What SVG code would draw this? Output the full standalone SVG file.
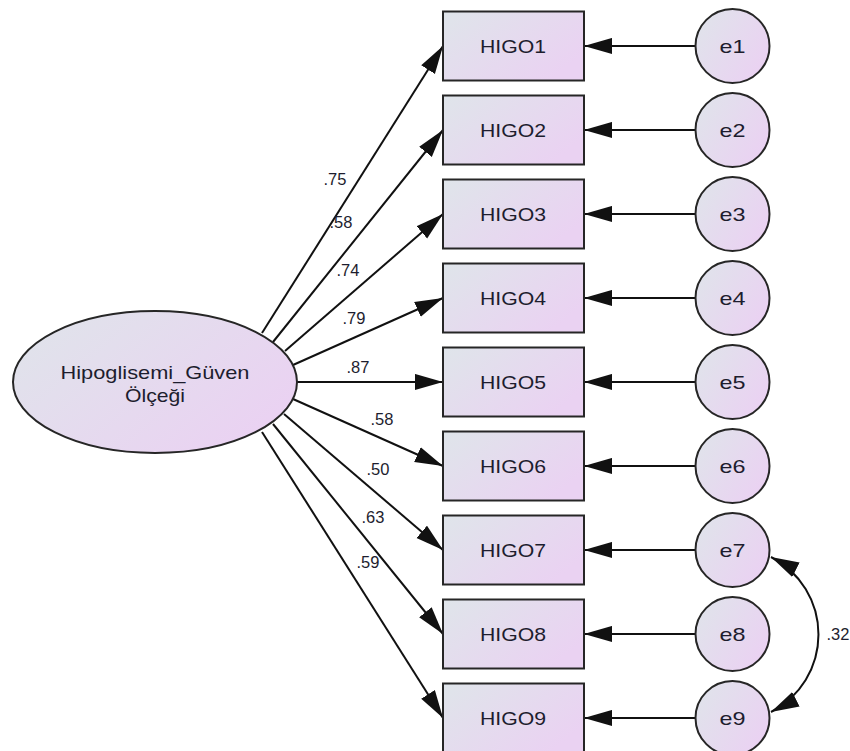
<svg xmlns="http://www.w3.org/2000/svg" width="850" height="751" viewBox="0 0 850 751">
  <defs>
    <linearGradient id="fill" x1="0" y1="0" x2="1" y2="0.6">
      <stop offset="0" stop-color="#dfe5ea"/>
      <stop offset="1" stop-color="#ead2f2"/>
    </linearGradient>
    <marker id="head" markerUnits="userSpaceOnUse" markerWidth="28" markerHeight="17" viewBox="0 0 26 15" refX="26" refY="7.5" orient="auto-start-reverse">
      <path d="M0,0 L26,7.5 L0,15 Z" fill="#111"/>
    </marker>
    <style>
      .node { fill: url(#fill); stroke: #262626; stroke-width: 2; }
      .lbl { font-family: "Liberation Sans", Arial, sans-serif; font-size: 19px; fill: #1d1d2e; text-anchor: middle; }
      .coef { font-family: "Liberation Sans", Arial, sans-serif; font-size: 16.5px; fill: #1d1d2e; text-anchor: middle; }
      .path { stroke: #111; stroke-width: 2; fill: none; marker-end: url(#head); }
    </style>
  </defs>

  <!-- connectors: loadings, error paths, covariance -->
  <g id="connectors">
    <line class="path" x1="262" y1="333" x2="443" y2="46"/>
    <line class="path" x1="273" y1="342" x2="443" y2="130"/>
    <line class="path" x1="285" y1="351" x2="443" y2="214"/>
    <line class="path" x1="293" y1="365" x2="443" y2="298"/>
    <line class="path" x1="297" y1="382" x2="443" y2="382"/>
    <line class="path" x1="293" y1="399" x2="443" y2="466"/>
    <line class="path" x1="284" y1="414" x2="443" y2="550"/>
    <line class="path" x1="273" y1="424" x2="443" y2="634"/>
    <line class="path" x1="262" y1="432" x2="443" y2="718"/>

    <line class="path" x1="695" y1="46" x2="584" y2="46"/>
    <line class="path" x1="695" y1="130" x2="584" y2="130"/>
    <line class="path" x1="695" y1="214" x2="584" y2="214"/>
    <line class="path" x1="695" y1="298" x2="584" y2="298"/>
    <line class="path" x1="695" y1="382" x2="584" y2="382"/>
    <line class="path" x1="695" y1="466" x2="584" y2="466"/>
    <line class="path" x1="695" y1="550" x2="584" y2="550"/>
    <line class="path" x1="695" y1="634" x2="584" y2="634"/>
    <line class="path" x1="695" y1="718" x2="584" y2="718"/>

    <path class="path" d="M771,557 A87,87 0 0 1 771,712" marker-start="url(#head)"/>

    <text class="coef" x="335" y="185">.75</text>
    <text class="coef" x="341" y="228">.58</text>
    <text class="coef" x="348" y="276">.74</text>
    <text class="coef" x="354" y="324">.79</text>
    <text class="coef" x="358" y="373">.87</text>
    <text class="coef" x="382" y="425">.58</text>
    <text class="coef" x="378" y="475">.50</text>
    <text class="coef" x="373" y="523">.63</text>
    <text class="coef" x="368" y="568">.59</text>
    <text class="coef" x="838" y="640">.32</text>
  </g>

  <!-- latent factor -->
  <g id="factor">
    <ellipse class="node" cx="155" cy="382" rx="142" ry="71"/>
    <text class="lbl" x="155" y="379" textLength="189" lengthAdjust="spacingAndGlyphs">Hipoglisemi_Güven</text>
    <text class="lbl" x="155" y="402" textLength="60" lengthAdjust="spacingAndGlyphs">Ölçeği</text>
  </g>

  <!-- observed items -->
  <g id="HIGO1"><rect class="node" x="443" y="11.5" width="141" height="69"/><text class="lbl" x="513" y="53" textLength="66" lengthAdjust="spacingAndGlyphs">HIGO1</text></g>
  <g id="HIGO2"><rect class="node" x="443" y="95.5" width="141" height="69"/><text class="lbl" x="513" y="137" textLength="66" lengthAdjust="spacingAndGlyphs">HIGO2</text></g>
  <g id="HIGO3"><rect class="node" x="443" y="179.5" width="141" height="69"/><text class="lbl" x="513" y="221" textLength="66" lengthAdjust="spacingAndGlyphs">HIGO3</text></g>
  <g id="HIGO4"><rect class="node" x="443" y="263.5" width="141" height="69"/><text class="lbl" x="513" y="305" textLength="66" lengthAdjust="spacingAndGlyphs">HIGO4</text></g>
  <g id="HIGO5"><rect class="node" x="443" y="347.5" width="141" height="69"/><text class="lbl" x="513" y="389" textLength="66" lengthAdjust="spacingAndGlyphs">HIGO5</text></g>
  <g id="HIGO6"><rect class="node" x="443" y="431.5" width="141" height="69"/><text class="lbl" x="513" y="473" textLength="66" lengthAdjust="spacingAndGlyphs">HIGO6</text></g>
  <g id="HIGO7"><rect class="node" x="443" y="515.5" width="141" height="69"/><text class="lbl" x="513" y="557" textLength="66" lengthAdjust="spacingAndGlyphs">HIGO7</text></g>
  <g id="HIGO8"><rect class="node" x="443" y="599.5" width="141" height="69"/><text class="lbl" x="513" y="641" textLength="66" lengthAdjust="spacingAndGlyphs">HIGO8</text></g>
  <g id="HIGO9"><rect class="node" x="443" y="683.5" width="141" height="69"/><text class="lbl" x="513" y="725" textLength="66" lengthAdjust="spacingAndGlyphs">HIGO9</text></g>

  <!-- error terms -->
  <g id="e1"><circle class="node" cx="732.5" cy="46" r="37"/><text class="lbl" x="732.5" y="53" textLength="26" lengthAdjust="spacingAndGlyphs">e1</text></g>
  <g id="e2"><circle class="node" cx="732.5" cy="130" r="37"/><text class="lbl" x="732.5" y="137" textLength="26" lengthAdjust="spacingAndGlyphs">e2</text></g>
  <g id="e3"><circle class="node" cx="732.5" cy="214" r="37"/><text class="lbl" x="732.5" y="221" textLength="26" lengthAdjust="spacingAndGlyphs">e3</text></g>
  <g id="e4"><circle class="node" cx="732.5" cy="298" r="37"/><text class="lbl" x="732.5" y="305" textLength="26" lengthAdjust="spacingAndGlyphs">e4</text></g>
  <g id="e5"><circle class="node" cx="732.5" cy="382" r="37"/><text class="lbl" x="732.5" y="389" textLength="26" lengthAdjust="spacingAndGlyphs">e5</text></g>
  <g id="e6"><circle class="node" cx="732.5" cy="466" r="37"/><text class="lbl" x="732.5" y="473" textLength="26" lengthAdjust="spacingAndGlyphs">e6</text></g>
  <g id="e7"><circle class="node" cx="732.5" cy="550" r="37"/><text class="lbl" x="732.5" y="557" textLength="26" lengthAdjust="spacingAndGlyphs">e7</text></g>
  <g id="e8"><circle class="node" cx="732.5" cy="634" r="37"/><text class="lbl" x="732.5" y="641" textLength="26" lengthAdjust="spacingAndGlyphs">e8</text></g>
  <g id="e9"><circle class="node" cx="732.5" cy="718" r="37"/><text class="lbl" x="732.5" y="725" textLength="26" lengthAdjust="spacingAndGlyphs">e9</text></g>
</svg>
